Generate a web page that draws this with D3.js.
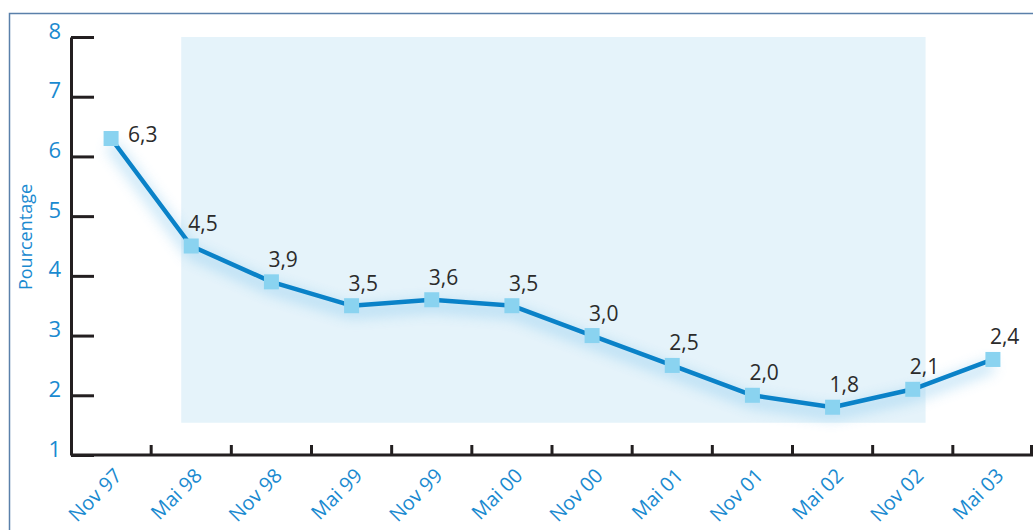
<!DOCTYPE html>
<html>
<head>
<meta charset="utf-8">
<script src="https://cdn.jsdelivr.net/npm/d3@7"></script>
<style>
  body { margin: 0; background: #fff; }
  svg { display: block; }
  svg text { font-family: 'Open Sans', sans-serif; }
  .y-axis text { fill: #1a8ad0; font-size: 22px; }
  .x-label { fill: #1a8ad0; font-size: 20px; }
  .value { fill: #2b2b2b; font-size: 21px; }
</style>
</head>
<body>
<script>
const width = 1033;
const height = 530;

const categories = ['Nov 97', 'Mai 98', 'Nov 98', 'Mai 99', 'Nov 99', 'Mai 00',
  'Nov 00', 'Mai 01', 'Nov 01', 'Mai 02', 'Nov 02', 'Mai 03'];
// plotted positions as drawn in the picture
const values = [6.3, 4.5, 3.9, 3.5, 3.6, 3.5, 3.0, 2.5, 2.0, 1.8, 2.1, 2.6];
// printed labels (the last one differs from where its point sits)
const labels = ['6,3', '4,5', '3,9', '3,5', '3,6', '3,5', '3,0', '2,5', '2,0', '1,8', '2,1', '2,4'];
const yTicks = [1, 2, 3, 4, 5, 6, 7, 8];

const svg = d3.select('body')
  .append('svg')
    .attr('width', width)
    .attr('height', height);

const x = d3.scaleBand()
  .domain(categories)
  .range([71, 1033]);

const y = d3.scaleLinear()
  .domain([1, 8])
  .range([455, 37]);

const cx = (d) => x(d) + x.bandwidth() / 2;

const defs = svg.append('defs');
defs.append('filter')
    .attr('id', 'glow')
    .attr('x', '-10%').attr('y', '-30%')
    .attr('width', '120%').attr('height', '160%')
  .append('feGaussianBlur')
    .attr('stdDeviation', 7);

// frame
svg.append('path')
  .attr('d', `M9.5,${height} V13.5 H${width}`)
  .attr('fill', 'none')
  .attr('stroke', '#5a80aa')
  .attr('stroke-width', 1.5);

// shaded zone
svg.append('rect')
  .attr('x', x(categories[1]) + x.bandwidth() * 0.375)
  .attr('y', y(8))
  .attr('width', (x(categories[10]) + x.bandwidth() * 0.66) - (x(categories[1]) + x.bandwidth() * 0.375))
  .attr('height', y(1.54) - y(8))
  .attr('fill', '#e5f3fa');

// y axis
const yAxis = svg.append('g')
  .attr('class', 'y-axis')
  .attr('transform', 'translate(71,0)')
  .call(d3.axisLeft(y)
    .tickValues(yTicks)
    .tickSize(-23)
    .tickSizeOuter(0)
    .tickPadding(10)
    .tickFormat(d3.format('d')));

yAxis.attr('font-family', null).attr('font-size', null);
yAxis.select('.domain').attr('stroke', '#231f20').attr('stroke-width', 3);
yAxis.selectAll('.tick line').attr('stroke', '#231f20').attr('stroke-width', 3);
yAxis.selectAll('.tick text').attr('dy', '0.05em');

svg.append('text')
  .attr('transform', 'translate(32,237) rotate(-90)')
  .attr('text-anchor', 'middle')
  .attr('fill', '#1a8ad0')
  .style('font-size', '18px')
  .text('Pourcentage');

// x axis
svg.append('line')
  .attr('x1', 71).attr('x2', width)
  .attr('y1', y(1)).attr('y2', y(1))
  .attr('stroke', '#231f20')
  .attr('stroke-width', 3);

svg.append('g')
  .selectAll('line')
  .data(categories.slice(1).map((c) => x(c)).concat([x.range()[1] - 1.5]))
  .join('line')
    .attr('x1', (d) => d).attr('x2', (d) => d)
    .attr('y1', y(1)).attr('y2', y(1) - 10)
    .attr('stroke', '#231f20')
    .attr('stroke-width', 3);

svg.append('g')
  .selectAll('text')
  .data(categories)
  .join('text')
    .attr('class', 'x-label')
    .attr('text-anchor', 'end')
    .attr('transform', (d) => `translate(${cx(d) + 12},477) rotate(-45)`)
    .text((d) => d);

// line
const points = categories.map((c, i) => [cx(c), y(values[i])]);
const line = d3.line();

svg.append('path')
  .attr('d', line(points))
  .attr('transform', 'translate(0,6)')
  .attr('fill', 'none')
  .attr('stroke', '#7cc3ec')
  .attr('stroke-width', 12)
  .attr('opacity', 0.45)
  .attr('filter', 'url(#glow)');

svg.append('path')
  .attr('d', line(points))
  .attr('fill', 'none')
  .attr('stroke', '#0a82c8')
  .attr('stroke-width', 4.5)
  .attr('stroke-linejoin', 'round');

svg.append('g')
  .selectAll('rect')
  .data(points)
  .join('rect')
    .attr('x', (d) => d[0] - 7.5)
    .attr('y', (d) => d[1] - 7.5)
    .attr('width', 15)
    .attr('height', 15)
    .attr('fill', '#8ad3f0');

svg.append('g')
  .selectAll('text')
  .data(points)
  .join('text')
    .attr('class', 'value')
    .attr('x', (d, i) => i === 0 ? d[0] + 17 : d[0] - 3)
    .attr('y', (d, i) => i === 0 ? d[1] + 3 : d[1] - 15)
    .text((d, i) => labels[i]);
</script>
</body>
</html>
